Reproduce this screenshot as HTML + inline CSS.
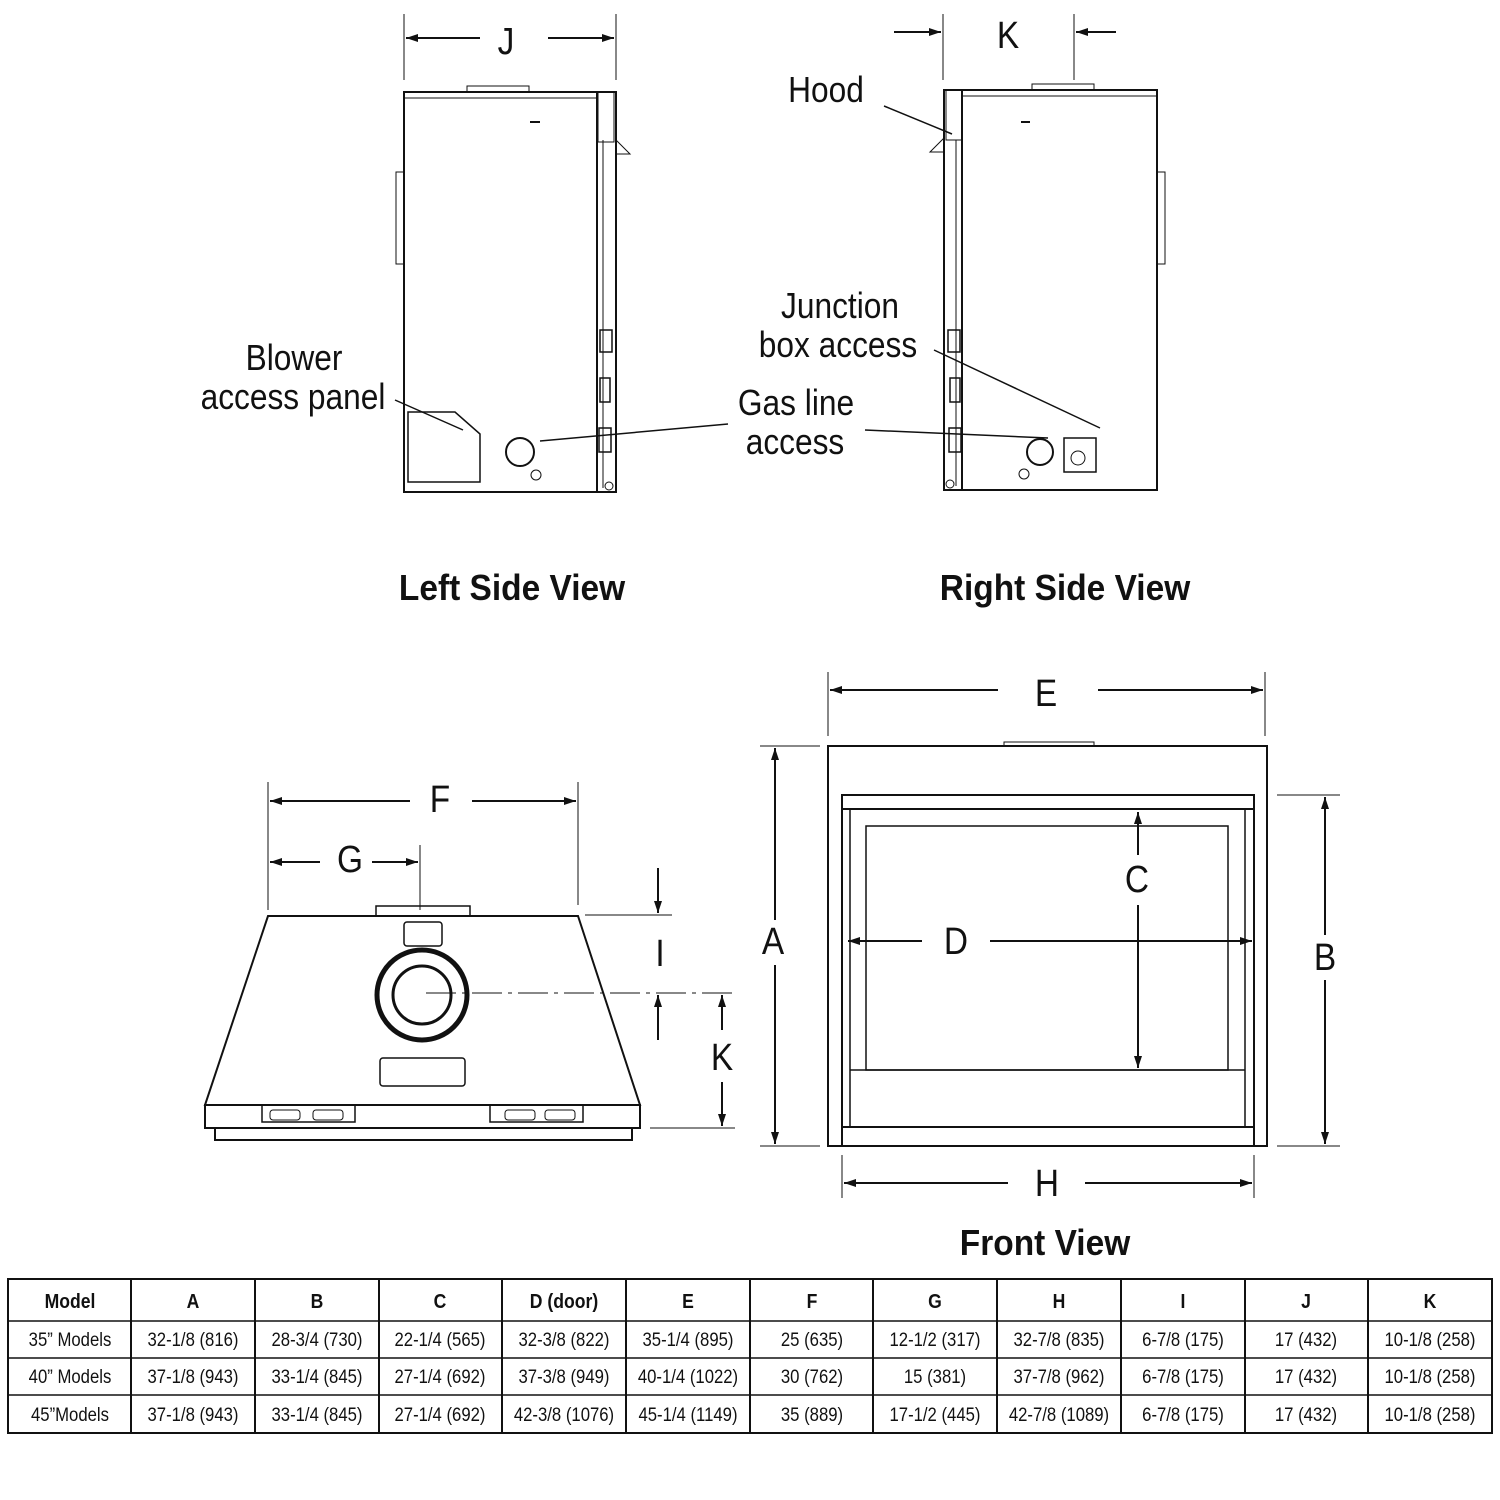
<!DOCTYPE html>
<html><head><style>
body{margin:0;background:#fff;}
svg{display:block}
.l{font-family:"Liberation Sans",sans-serif;fill:#111}
.l text{transform-box:fill-box;transform-origin:center;transform:scaleX(0.88)}
.t text{transform:scaleX(0.93)}
</style></head><body>
<svg width="1500" height="1500" viewBox="0 0 1500 1500" xmlns="http://www.w3.org/2000/svg">
<defs><marker id="a" markerWidth="12" markerHeight="8" refX="12" refY="4" orient="auto" markerUnits="userSpaceOnUse"><path d="M0,0 L12,4 L0,8 z" fill="#111"/></marker></defs>
<g stroke="#111" fill="none" stroke-width="2">
<line x1="404" y1="14" x2="404" y2="80" stroke-width="1"/><line x1="616" y1="14" x2="616" y2="80" stroke-width="1"/>
<line x1="480" y1="38" x2="406" y2="38" marker-end="url(#a)"/><line x1="548" y1="38" x2="614" y2="38" marker-end="url(#a)"/>
<rect x="404" y="92" width="212" height="400"/>
<line x1="404" y1="98" x2="597" y2="98" stroke-width="1"/>
<line x1="597" y1="92" x2="597" y2="492"/><line x1="603" y1="140" x2="603" y2="488" stroke-width="1"/>
<rect x="396" y="172" width="8" height="92" stroke-width="1"/>
<rect x="467" y="86" width="62" height="6" stroke-width="1"/>
<path d="M616 140 L630 154 L616 154" stroke-width="1"/>
<rect x="598" y="92" width="16" height="50" stroke-width="1"/>
<rect x="600" y="330" width="12" height="22" stroke-width="1.5"/><rect x="600" y="378" width="10" height="24" stroke-width="1.5"/><rect x="599" y="428" width="12" height="24" stroke-width="1.5"/>
<path d="M408 412 L455 412 L480 434 L480 482 L408 482 z" stroke-width="1.5"/>
<line x1="395" y1="400" x2="463" y2="430" stroke-width="1.5"/>
<circle cx="520" cy="452" r="14"/><circle cx="536" cy="475" r="5" stroke-width="1"/>
<line x1="540" y1="441" x2="728" y2="424" stroke-width="1.5"/>
<line x1="530" y1="122" x2="540" y2="122"/><circle cx="609" cy="486" r="4" stroke-width="1"/>
<line x1="943" y1="14" x2="943" y2="80" stroke-width="1"/><line x1="1074" y1="14" x2="1074" y2="80" stroke-width="1"/>
<line x1="894" y1="32" x2="941" y2="32" marker-end="url(#a)"/><line x1="1116" y1="32" x2="1076" y2="32" marker-end="url(#a)"/>
<rect x="944" y="90" width="213" height="400"/>
<line x1="962" y1="90" x2="962" y2="490"/><line x1="956" y1="140" x2="956" y2="486" stroke-width="1"/>
<line x1="962" y1="96" x2="1157" y2="96" stroke-width="1"/>
<rect x="1157" y="172" width="8" height="92" stroke-width="1"/>
<rect x="1032" y="84" width="62" height="6" stroke-width="1"/>
<path d="M944 138 L930 152 L944 152" stroke-width="1"/>
<rect x="946" y="90" width="16" height="50" stroke-width="1"/>
<rect x="948" y="330" width="12" height="22" stroke-width="1.5"/><rect x="950" y="378" width="10" height="24" stroke-width="1.5"/><rect x="949" y="428" width="12" height="24" stroke-width="1.5"/>
<line x1="884" y1="106" x2="952" y2="134" stroke-width="1.5"/>
<line x1="934" y1="350" x2="1100" y2="428" stroke-width="1.5"/>
<line x1="865" y1="430" x2="1048" y2="438" stroke-width="1.5"/>
<circle cx="1040" cy="452" r="13"/><circle cx="1024" cy="474" r="5" stroke-width="1"/>
<rect x="1064" y="438" width="32" height="34" stroke-width="1.5"/><circle cx="1078" cy="458" r="7" stroke-width="1"/>
<line x1="1021" y1="122" x2="1030" y2="122"/><circle cx="950" cy="484" r="4" stroke-width="1"/>
<line x1="268" y1="782" x2="268" y2="910" stroke-width="1"/><line x1="578" y1="782" x2="578" y2="905" stroke-width="1"/>
<line x1="420" y1="845" x2="420" y2="910" stroke-width="1"/>
<line x1="410" y1="801" x2="270" y2="801" marker-end="url(#a)"/><line x1="472" y1="801" x2="576" y2="801" marker-end="url(#a)"/>
<line x1="320" y1="862" x2="270" y2="862" marker-end="url(#a)"/><line x1="372" y1="862" x2="418" y2="862" marker-end="url(#a)"/>
<rect x="376" y="906" width="94" height="10" stroke-width="1.5"/>
<path d="M268 916 L578 916 L640 1105 L205 1105 z"/>
<rect x="205" y="1105" width="435" height="23"/>
<rect x="215" y="1128" width="417" height="12"/>
<rect x="404" y="922" width="38" height="24" rx="3" stroke-width="1.5"/>
<circle cx="422" cy="995" r="45" stroke-width="5"/><circle cx="422" cy="995" r="29" stroke-width="3"/>
<rect x="380" y="1058" width="85" height="28" rx="3" stroke-width="1.5"/>
<path d="M262 1105 L262 1122 L355 1122 L355 1105 M490 1105 L490 1122 L583 1122 L583 1105" stroke-width="1.5"/>
<rect x="270" y="1110" width="30" height="10" rx="3" stroke-width="1"/><rect x="313" y="1110" width="30" height="10" rx="3" stroke-width="1"/>
<rect x="505" y="1110" width="30" height="10" rx="3" stroke-width="1"/><rect x="545" y="1110" width="30" height="10" rx="3" stroke-width="1"/>
<line x1="426" y1="993" x2="735" y2="993" stroke-width="1" stroke-dasharray="30,6,4,6"/>
<line x1="585" y1="915" x2="672" y2="915" stroke-width="1"/><line x1="650" y1="1128" x2="735" y2="1128" stroke-width="1"/>
<line x1="658" y1="868" x2="658" y2="913" marker-end="url(#a)"/><line x1="658" y1="1040" x2="658" y2="995" marker-end="url(#a)"/>
<line x1="722" y1="1030" x2="722" y2="995" marker-end="url(#a)"/><line x1="722" y1="1082" x2="722" y2="1126" marker-end="url(#a)"/>
<line x1="828" y1="672" x2="828" y2="736" stroke-width="1"/><line x1="1265" y1="672" x2="1265" y2="736" stroke-width="1"/>
<line x1="998" y1="690" x2="830" y2="690" marker-end="url(#a)"/><line x1="1098" y1="690" x2="1263" y2="690" marker-end="url(#a)"/>
<rect x="828" y="746" width="439" height="400"/>
<rect x="1004" y="742" width="90" height="4" stroke-width="1"/>
<rect x="842" y="795" width="412" height="14"/>
<line x1="842" y1="809" x2="842" y2="1146"/><line x1="1254" y1="809" x2="1254" y2="1146"/>
<rect x="850" y="809" width="395" height="318" stroke-width="1.5"/>
<rect x="866" y="826" width="362" height="244" stroke-width="1.5"/>
<line x1="850" y1="1070" x2="1245" y2="1070" stroke-width="1.5"/>
<line x1="842" y1="1127" x2="1254" y2="1127"/>
<line x1="760" y1="746" x2="820" y2="746" stroke-width="1"/><line x1="760" y1="1146" x2="820" y2="1146" stroke-width="1"/>
<line x1="775" y1="920" x2="775" y2="748" marker-end="url(#a)"/><line x1="775" y1="965" x2="775" y2="1144" marker-end="url(#a)"/>
<line x1="1277" y1="795" x2="1340" y2="795" stroke-width="1"/><line x1="1277" y1="1146" x2="1340" y2="1146" stroke-width="1"/>
<line x1="1325" y1="935" x2="1325" y2="797" marker-end="url(#a)"/><line x1="1325" y1="980" x2="1325" y2="1144" marker-end="url(#a)"/>
<line x1="1138" y1="855" x2="1138" y2="812" marker-end="url(#a)"/><line x1="1138" y1="905" x2="1138" y2="1068" marker-end="url(#a)"/>
<line x1="922" y1="941" x2="848" y2="941" marker-end="url(#a)"/><line x1="990" y1="941" x2="1252" y2="941" marker-end="url(#a)"/>
<line x1="842" y1="1155" x2="842" y2="1198" stroke-width="1"/><line x1="1254" y1="1155" x2="1254" y2="1198" stroke-width="1"/>
<line x1="1008" y1="1183" x2="844" y2="1183" marker-end="url(#a)"/><line x1="1085" y1="1183" x2="1252" y2="1183" marker-end="url(#a)"/>
<rect x="8" y="1279" width="1484" height="154"/>
<line x1="8" y1="1321" x2="1492" y2="1321" stroke-width="1.5"/><line x1="8" y1="1358" x2="1492" y2="1358" stroke-width="1.5"/><line x1="8" y1="1395" x2="1492" y2="1395" stroke-width="1.5"/>
<line x1="131" y1="1279" x2="131" y2="1433"/><line x1="255" y1="1279" x2="255" y2="1433"/><line x1="379" y1="1279" x2="379" y2="1433"/><line x1="502" y1="1279" x2="502" y2="1433"/><line x1="626" y1="1279" x2="626" y2="1433"/><line x1="750" y1="1279" x2="750" y2="1433"/><line x1="873" y1="1279" x2="873" y2="1433"/><line x1="997" y1="1279" x2="997" y2="1433"/><line x1="1121" y1="1279" x2="1121" y2="1433"/><line x1="1245" y1="1279" x2="1245" y2="1433"/><line x1="1368" y1="1279" x2="1368" y2="1433"/>
</g>
<g class="l" font-size="38" text-anchor="middle">
<text x="506" y="54">J</text><text x="1008" y="48">K</text>
<text x="440" y="812">F</text><text x="350" y="872">G</text><text x="660" y="966">I</text><text x="722" y="1070">K</text>
<text x="1046" y="706">E</text><text x="773" y="954">A</text><text x="1325" y="970">B</text><text x="1137" y="892">C</text><text x="956" y="954">D</text><text x="1047" y="1196">H</text>
</g>
<g class="l" font-size="36" text-anchor="middle">
<text x="826" y="102">Hood</text>
<text x="840" y="318">Junction</text><text x="838" y="357">box access</text>
<text x="796" y="415">Gas line</text><text x="795" y="454">access</text>
<text x="294" y="370">Blower</text><text x="293" y="409">access panel</text>
</g>
<g class="l t" font-size="36" font-weight="bold" text-anchor="middle">
<text x="512" y="600">Left Side View</text><text x="1065" y="600">Right Side View</text><text x="1045" y="1255">Front View</text>
</g>
<g class="l" font-size="20" font-weight="bold" text-anchor="middle">
<text x="70" y="1308">Model</text><text x="193" y="1308">A</text><text x="317" y="1308">B</text><text x="440" y="1308">C</text><text x="564" y="1308">D (door)</text><text x="688" y="1308">E</text><text x="812" y="1308">F</text><text x="935" y="1308">G</text><text x="1059" y="1308">H</text><text x="1183" y="1308">I</text><text x="1306" y="1308">J</text><text x="1430" y="1308">K</text>
</g>
<g class="l" font-size="19" text-anchor="middle">
<text x="70" y="1346">35” Models</text><text x="193" y="1346">32-1/8 (816)</text><text x="317" y="1346">28-3/4 (730)</text><text x="440" y="1346">22-1/4 (565)</text><text x="564" y="1346">32-3/8 (822)</text><text x="688" y="1346">35-1/4 (895)</text><text x="812" y="1346">25 (635)</text><text x="935" y="1346">12-1/2 (317)</text><text x="1059" y="1346">32-7/8 (835)</text><text x="1183" y="1346">6-7/8 (175)</text><text x="1306" y="1346">17 (432)</text><text x="1430" y="1346">10-1/8 (258)</text>
<text x="70" y="1383">40” Models</text><text x="193" y="1383">37-1/8 (943)</text><text x="317" y="1383">33-1/4 (845)</text><text x="440" y="1383">27-1/4 (692)</text><text x="564" y="1383">37-3/8 (949)</text><text x="688" y="1383">40-1/4 (1022)</text><text x="812" y="1383">30 (762)</text><text x="935" y="1383">15 (381)</text><text x="1059" y="1383">37-7/8 (962)</text><text x="1183" y="1383">6-7/8 (175)</text><text x="1306" y="1383">17 (432)</text><text x="1430" y="1383">10-1/8 (258)</text>
<text x="70" y="1421">45”Models</text><text x="193" y="1421">37-1/8 (943)</text><text x="317" y="1421">33-1/4 (845)</text><text x="440" y="1421">27-1/4 (692)</text><text x="564" y="1421">42-3/8 (1076)</text><text x="688" y="1421">45-1/4 (1149)</text><text x="812" y="1421">35 (889)</text><text x="935" y="1421">17-1/2 (445)</text><text x="1059" y="1421">42-7/8 (1089)</text><text x="1183" y="1421">6-7/8 (175)</text><text x="1306" y="1421">17 (432)</text><text x="1430" y="1421">10-1/8 (258)</text>
</g>
</svg>
</body></html>
